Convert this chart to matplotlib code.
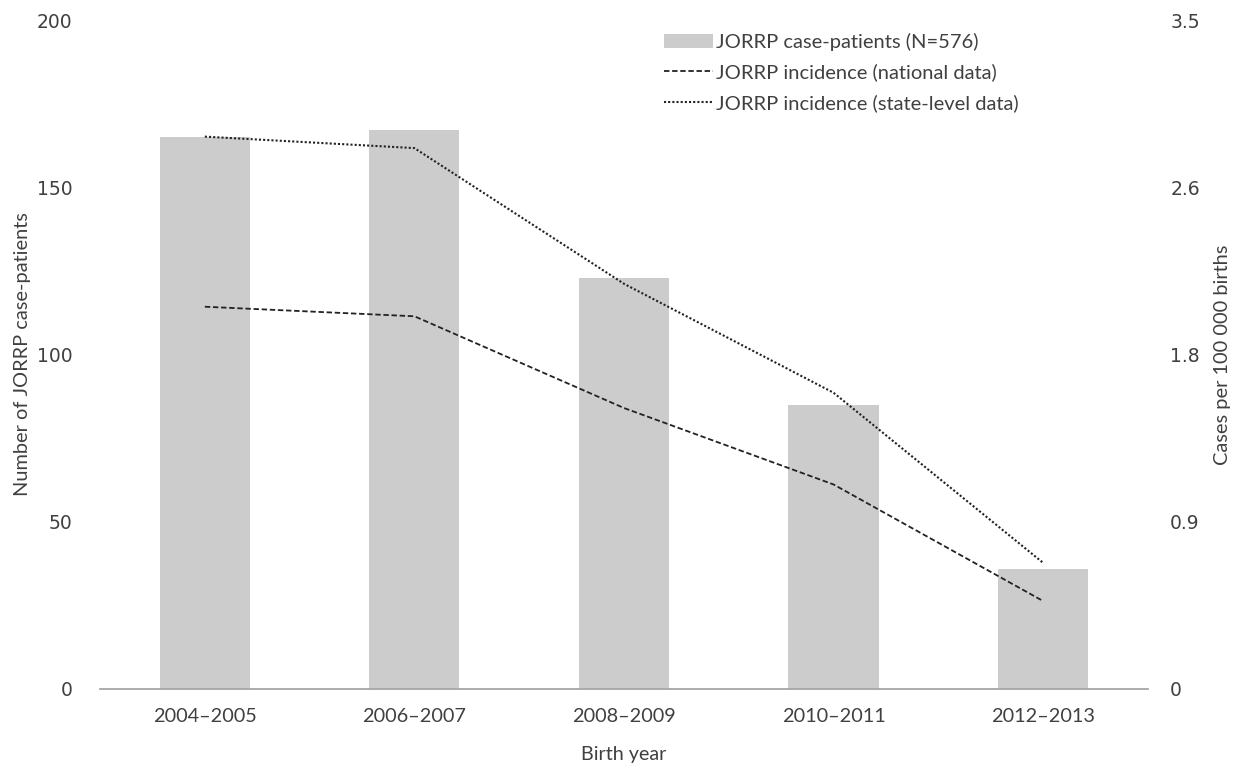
import matplotlib.pyplot as plt
import matplotlib.ticker as mticker
from matplotlib.patches import Patch
from matplotlib.lines import Line2D

# Data
birth_years = ["2004–2005", "2006–2007", "2008–2009", "2010–2011", "2012–2013"]
case_patients = [165, 167, 123, 85, 36]
incidence_national = [2.00, 1.95, 1.47, 1.07, 0.46]
incidence_state = [2.89, 2.83, 2.12, 1.55, 0.66]

label_font = "Lato"
tick_font = "DejaVu Sans"
text_color = "#404040"

fig = plt.figure(figsize=(12.43, 7.71), dpi=100)
ax = fig.add_axes([0.0805, 0.1064, 0.843, 0.8676])
ax2 = ax.twinx()

x = list(range(len(birth_years)))
ax.bar(x, case_patients, width=0.43, color="#cccccc", zorder=1)
ax2.plot(x, incidence_national, color="#222222", lw=1.3, linestyle=(0, (3, 1.5)))
ax2.plot(x, incidence_state, color="#222222", lw=1.5, linestyle=(0, (1, 1)))

ax.set_xlim(-0.5, len(birth_years) - 0.5)
ax.set_ylim(0, 200)
ax.set_yticks([0, 50, 100, 150, 200])
ax2.set_ylim(0, 3.5)
ax2.set_yticks([0, 0.875, 1.75, 2.625, 3.5])
ax2.yaxis.set_major_formatter(mticker.FuncFormatter(
    lambda v, p: "0" if v == 0 else f"{v:.1f}"))

for a in (ax, ax2):
    for s in a.spines.values():
        s.set_visible(False)
    a.tick_params(length=0, labelsize=13.5, labelcolor=text_color)
ax.spines["bottom"].set_visible(True)
ax.spines["bottom"].set_color("#a6a6a6")
ax.spines["bottom"].set_linewidth(1.3)

ax.set_xticks(x)
ax.set_xticklabels(birth_years, fontfamily=label_font, fontsize=14.3)
for lbl in ax.get_yticklabels() + ax2.get_yticklabels():
    lbl.set_fontfamily(tick_font)
ax.tick_params(axis="x", pad=14)
ax.tick_params(axis="y", pad=20)
ax2.tick_params(axis="y", pad=16)

ax.set_xlabel("Birth year", fontfamily=label_font, fontsize=14.2, color=text_color, labelpad=15)
ax.set_ylabel("Number of JORRP case-patients", fontfamily=label_font, fontsize=14.4,
              color=text_color)
ax.yaxis.set_label_coords(-0.066, 0.5)
ax2.set_ylabel("Cases per 100 000 births", fontfamily=label_font, fontsize=14.4,
               color=text_color)
ax2.yaxis.set_label_coords(1.063, 0.5)

handles = [
    Patch(facecolor="#cccccc", edgecolor="none"),
    Line2D([], [], color="#222222", lw=1.3, linestyle=(0, (3, 1.5))),
    Line2D([], [], color="#222222", lw=1.5, linestyle=(0, (1, 1))),
]
labels = ["JORRP case-patients (N=576)", "JORRP incidence (national data)",
          "JORRP incidence (state-level data)"]
leg = ax2.legend(handles, labels, loc="upper left", bbox_to_anchor=(0.521, 1.008),
                 frameon=False, handlelength=2.45, handletextpad=0.15,
                 labelspacing=0.62, prop={"family": label_font, "size": 14.5})
for t in leg.get_texts():
    t.set_color(text_color)

fig.savefig("out.png", dpi=100)
